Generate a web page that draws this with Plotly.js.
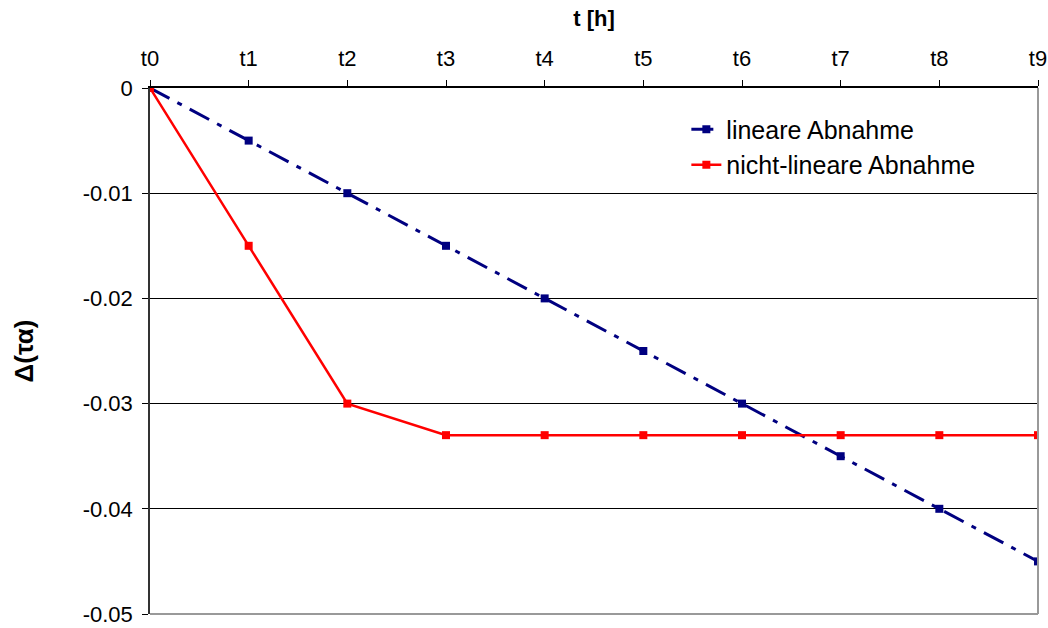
<!DOCTYPE html>
<html><head><meta charset="utf-8">
<script src="https://cdn.plot.ly/plotly-3.0.1.min.js"></script>
<style>body{margin:0;background:#fff}#c{width:1048px;height:628px}</style>
</head><body><div id="c"></div>
<script>
var categories = ["t0","t1","t2","t3","t4","t5","t6","t7","t8","t9"];
var linear = [0,-0.005,-0.01,-0.015,-0.02,-0.025,-0.03,-0.035,-0.04,-0.045];
var nonlinear = [0,-0.015,-0.03,-0.033,-0.033,-0.033,-0.033,-0.033,-0.033,-0.033];
var yTicks = [0,-0.01,-0.02,-0.03,-0.04,-0.05];
var yTickText = ["0","-0.01","-0.02","-0.03","-0.04","-0.05"];

var traces = [
 {x: categories, y: linear, name: "lineare Abnahme", type: "scatter", mode: "lines+markers",
  line: {color: "#000080", width: 3, dash: "22px,9px,5px,9px"}, marker: {symbol: "square", size: 8, color: "#000080"}},
 {x: categories, y: nonlinear, name: "nicht-lineare Abnahme", type: "scatter", mode: "lines+markers",
  line: {color: "#ff0000", width: 2.5}, marker: {symbol: "square", size: 8, color: "#ff0000"}}
];
var F = "Arial, 'Liberation Sans', sans-serif";
var layout = {
 width: 1048, height: 628,
 margin: {l: 150, r: 10, t: 88, b: 14},
 paper_bgcolor: "#fff", plot_bgcolor: "#fff",
 font: {family: F, size: 22, color: "#000"},
 showlegend: true,
 legend: {x: 0.604, y: 0.965, xanchor: "left", yanchor: "top", bgcolor: "rgba(0,0,0,0)",
   font: {family: F, size: 25, color: "#000"}, tracegroupgap: 0},
 xaxis: {type: "category", side: "top", range: [0, 9], showgrid: false, zeroline: false,
   showline: true, linecolor: "#000", linewidth: 1.5, ticks: "outside", ticklen: 6, tickcolor: "#000",
   ticklabelstandoff: 5,
   tickfont: {family: F, size: 22}, title: {text: "<b>t [h]</b>", font: {family: F, size: 22}, standoff: 14}},
 yaxis: {range: [-0.05, 0], tickvals: yTicks, ticktext: yTickText, showgrid: true, gridcolor: "#000", gridwidth: 1,
   zeroline: false, showline: true, linecolor: "#333", linewidth: 1.5, ticks: "outside", ticklen: 6, tickcolor: "#000",
   ticklabelstandoff: 5,
   tickfont: {family: F, size: 22}, title: {text: "<b>Δ(τα)</b>", font: {family: F, size: 26}, standoff: 42}},
 shapes: [
  {type: "line", xref: "paper", yref: "paper", x0: 1, x1: 1, y0: 0, y1: 1, line: {color: "#999", width: 2}},
  {type: "line", xref: "paper", yref: "paper", x0: 0, x1: 1, y0: 0, y1: 0, line: {color: "#999", width: 2}}
 ]
};
Plotly.newPlot("c", traces, layout, {displayModeBar: false});
</script></body></html>
